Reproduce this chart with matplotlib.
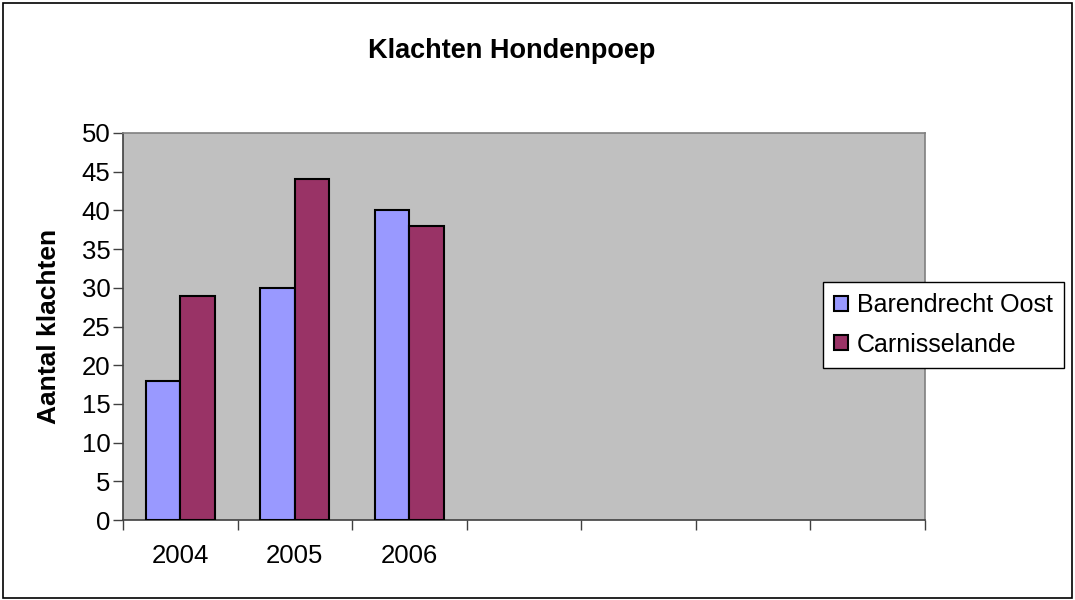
import numpy as np
import matplotlib.pyplot as plt
from matplotlib.patches import Rectangle

plt.rcParams['font.family'] = ['Liberation Sans', 'DejaVu Sans']

categorieen = ['2004', '2005', '2006', '', '', '', '']
barendrecht = [18, 30, 40]
carnisselande = [29, 44, 38]
reeksen = ['Barendrecht Oost', 'Carnisselande']

fig = plt.figure(figsize=(10.75, 6), dpi=100)
fig.patches.append(Rectangle((0.003, 0.004), 0.994, 0.991, transform=fig.transFigure,
                             fill=False, edgecolor='black', linewidth=1.2))

ax = fig.add_axes([123 / 1075, 80 / 600, (925 - 123) / 1075, (520 - 133) / 600])
ax.set_facecolor('#C0C0C0')

x = np.arange(len(barendrecht))
w = 0.3
ax.bar(x - w / 2, barendrecht, w, color='#9999FF', edgecolor='black', linewidth=1.5,
       label=reeksen[0], zorder=3)
ax.bar(x + w / 2, carnisselande, w, color='#993366', edgecolor='black', linewidth=1.5,
       label=reeksen[1], zorder=3)

ax.set_xlim(-0.5, len(categorieen) - 0.5)
ax.set_ylim(0, 50)
ax.set_yticks(range(0, 51, 5))
ax.set_xticks(np.arange(len(categorieen) + 1) - 0.5, minor=False)
ax.set_xticklabels([])
ax.set_xticks(np.arange(len(categorieen)), minor=True)
ax.set_xticklabels(categorieen, minor=True)
ax.tick_params(axis='x', which='minor', length=0, pad=17, labelsize=18.5)
ax.tick_params(axis='x', which='major', length=7, width=1, color='#404040')
ax.tick_params(axis='y', length=7, width=1, color='#404040', labelsize=18.5, pad=2)

for s in ['left', 'bottom']:
    ax.spines[s].set_color('#404040')
for s in ['top', 'right']:
    ax.spines[s].set_color('#808080')
for s in ax.spines.values():
    s.set_linewidth(1.2)

ax.set_ylabel('Aantal klachten', fontsize=19, fontweight='bold', labelpad=15)
fig.text(512 / 1075, 1 - 51 / 600, 'Klachten Hondenpoep', ha='center', va='center',
         fontsize=19.5, fontweight='bold')

leg = ax.legend(loc='center left', bbox_to_anchor=(823 / 1075, 1 - 325 / 600),
                bbox_transform=fig.transFigure, fontsize=18, frameon=True,
                fancybox=False, edgecolor='black', framealpha=1,
                handlelength=0.55, handleheight=0.55, handletextpad=0.35,
                labelspacing=0.6, borderpad=0.45, borderaxespad=0)
leg.get_frame().set_linewidth(1)

fig.savefig('out.png', dpi=100)
